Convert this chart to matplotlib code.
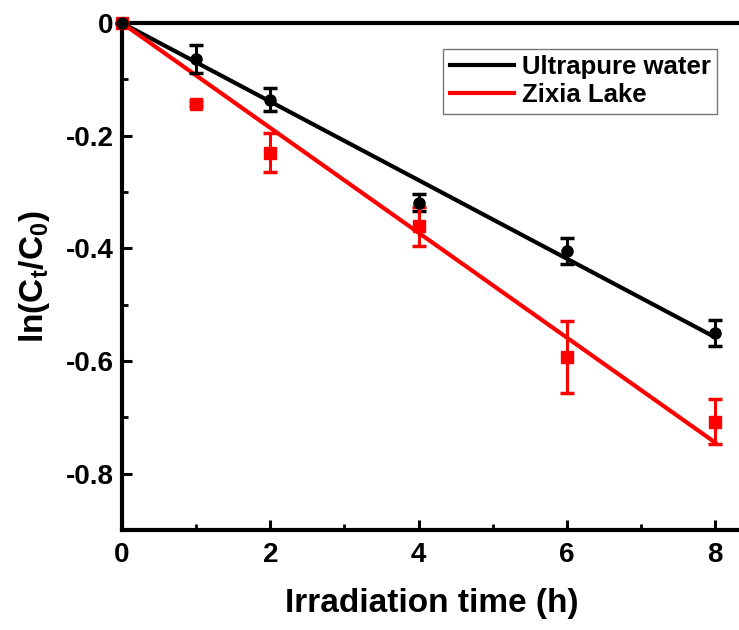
import numpy as np
import matplotlib.pyplot as plt

plt.rcParams['font.family'] = ['Liberation Sans', 'DejaVu Sans']
plt.rcParams['font.weight'] = 'bold'
plt.rcParams['mathtext.fontset'] = 'custom'
plt.rcParams['mathtext.rm'] = 'Liberation Sans:bold'
plt.rcParams['mathtext.it'] = 'Liberation Sans:bold'
plt.rcParams['mathtext.bf'] = 'Liberation Sans:bold'

# data
time_h = np.array([0, 1, 2, 4, 6, 8])
pure_y = np.array([0, -0.064, -0.136, -0.319, -0.405, -0.55])
pure_err = np.array([0, 0.025, 0.021, 0.015, 0.023, 0.023])
lake_y = np.array([0, -0.143, -0.23, -0.361, -0.593, -0.708])
lake_err = np.array([0, 0.005, 0.035, 0.035, 0.064, 0.04])

labels = ['Ultrapure water', 'Zixia Lake']
colors = ['black', '#ff0000']
markers = ['o', 's']


def fit_origin(x, y):
    # linear fit forced through the origin
    return np.sum(x * y) / np.sum(x * x)


fig = plt.figure(figsize=(7.39, 6.3), dpi=100)
ax = fig.add_axes([0.165, 0.159, 0.838, 0.8045])

x_fit = np.array([0, 8])
for y, err, lab, c, m in zip([pure_y, lake_y], [pure_err, lake_err], labels, colors, markers):
    k = fit_origin(time_h, y)
    ax.plot(x_fit, k * x_fit, color=c, lw=3, label=lab, zorder=2)
    ax.errorbar(time_h, y, yerr=err, fmt=m, color=c, ms=8, elinewidth=2.2,
                capsize=5, capthick=2.5, zorder=3, clip_on=False)

# redraw black origin point on top
ax.plot([0], [0], 'o', color='black', ms=8, zorder=4, clip_on=False)

ax.set_xlim(0, 8.35)
ax.set_ylim(-0.9, 0)
ax.set_xticks([0, 2, 4, 6, 8])
ax.set_xticks([1, 3, 5, 7], minor=True)
ax.set_yticks([0, -0.2, -0.4, -0.6, -0.8])
ax.set_yticks([-0.1, -0.3, -0.5, -0.7], minor=True)
ax.set_yticklabels(['0', '-0.2', '-0.4', '-0.6', '-0.8'])

ax.tick_params(which='major', direction='in', length=7, width=2.2, labelsize=20)
ax.tick_params(axis='y', which='major', pad=6)
ax.tick_params(axis='x', which='major', pad=9)
ax.tick_params(which='minor', direction='in', length=4, width=2)
for side in ['left', 'bottom', 'top']:
    ax.spines[side].set_linewidth(3)
ax.spines['right'].set_visible(False)

ax.set_xlabel('Irradiation time (h)', fontsize=24, fontweight='bold', labelpad=14)
ax.set_ylabel('ln(C$_t$/C$_0$)', fontsize=24, fontweight='bold', labelpad=10)

leg = ax.legend(loc='upper right', bbox_to_anchor=(0.961, 0.949), borderaxespad=0,
                fontsize=18.5, frameon=True, fancybox=False, handlelength=2.5,
                borderpad=0.25, labelspacing=0.15, handletextpad=0.3)
leg.get_frame().set_edgecolor('#555555')
leg.get_frame().set_linewidth(1)

plt.savefig('out.png', dpi=100)
